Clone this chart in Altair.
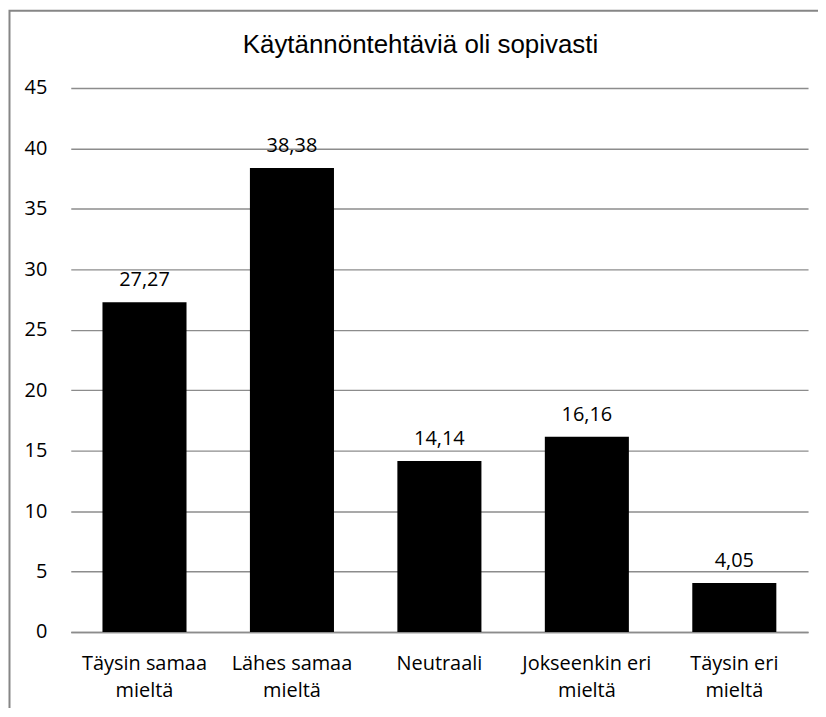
import altair as alt
import pandas as pd

# ---- data ----
categories = [
    "Täysin samaa\nmieltä",
    "Lähes samaa\nmieltä",
    "Neutraali",
    "Jokseenkin eri\nmieltä",
    "Täysin eri\nmieltä",
]
values = [27.27, 38.38, 14.14, 16.16, 4.05]
y_ticks = [0, 5, 10, 15, 20, 25, 30, 35, 40, 45]
title_text = "Käytännöntehtäviä oli sopivasti"

df = pd.DataFrame({"category": categories, "value": values})

W, H = 740, 546
FONT = "Open Sans"
FS = 20
GRID = "#8c8c8c"

x_enc = alt.X(
    "category:N",
    sort=categories,
    title=None,
    scale=alt.Scale(paddingInner=0.43, paddingOuter=0.215),
    axis=alt.Axis(
        labelAngle=0,
        labelExpr="split(datum.label, '\\n')",
        labelLineHeight=27,
        labelPadding=22,
        ticks=False,
        grid=False,
        domainColor=GRID,
        domainWidth=1.4,
        labelFont=FONT,
        labelFontSize=FS,
        labelColor="black",
    ),
)
y_enc = alt.Y(
    "value:Q",
    title=None,
    scale=alt.Scale(domain=[0, 45], nice=False),
    axis=alt.Axis(
        values=y_ticks,
        ticks=False,
        domain=False,
        grid=True,
        gridColor=GRID,
        gridWidth=1.4,
        labelPadding=24,
        labelFont=FONT,
        labelFontSize=FS,
        labelColor="black",
        labelBaseline="middle",
    ),
)

base = alt.Chart(df).encode(x=x_enc, y=y_enc)

bars = base.mark_bar(color="black")

labels = base.transform_calculate(
    label="replace(format(datum.value, '.2f'), '.', ',')"
).mark_text(
    baseline="alphabetic", dy=-16, font=FONT, fontSize=FS, color="black"
).encode(text="label:N")

border = alt.Chart(pd.DataFrame({"a": [0]})).mark_rect(
    fillOpacity=0, stroke="#868686", strokeWidth=2
).encode(
    x=alt.value(-61.5),
    x2=alt.value(W + 80),
    y=alt.value(-77.5),
    y2=alt.value(H + 120),
)

title = alt.Chart(pd.DataFrame({"t": [title_text]})).mark_text(
    font="Liberation Sans",
    fontSize=26,
    color="black",
    baseline="alphabetic",
    align="center",
).encode(
    text="t:N",
    x=alt.value(W / 2 - 19),
    y=alt.value(-35),
)

chart = alt.layer(border, bars, labels, title).properties(
    width=W,
    height=H,
    autosize=alt.AutoSizeParams(type="none"),
    padding={"left": 63, "top": 79, "right": 10, "bottom": 75},
).configure_view(strokeWidth=0)

chart.save("out.html", embed_options={"renderer": "svg", "actions": False})
